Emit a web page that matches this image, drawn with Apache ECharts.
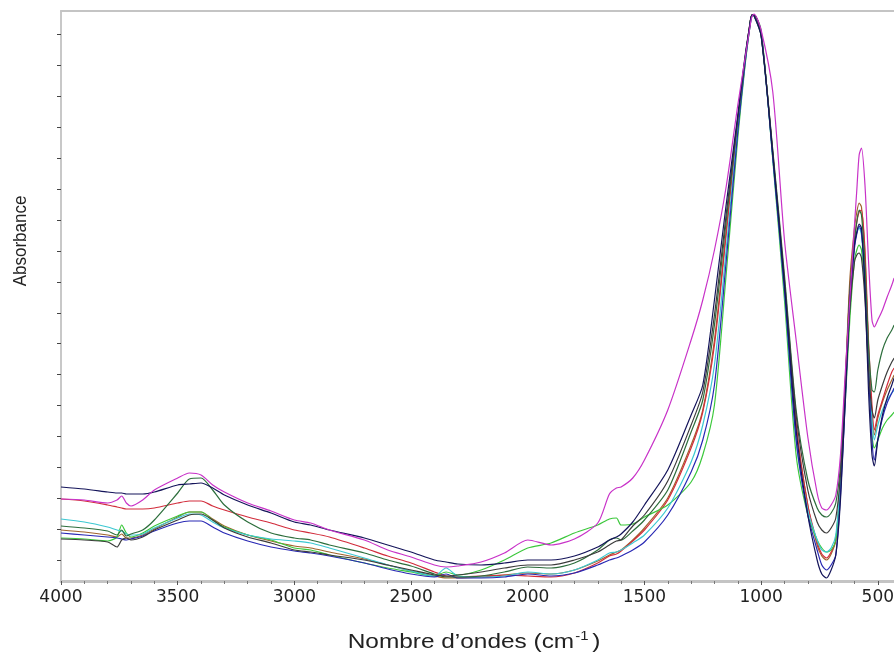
<!DOCTYPE html>
<html>
<head>
<meta charset="utf-8">
<script src="https://cdn.jsdelivr.net/npm/echarts@6/dist/echarts.min.js"></script>
<style>
html,body{margin:0;padding:0;background:#fff;}
#chart{width:894px;height:660px;}
</style>
</head>
<body>
<div id="chart"></div>
<script>
// Wavenumbers (cm-1)
const wavenumbers = [4000,3900,3800,3760,3740,3720,3700,3650,3600,3500,3450,3400,3350,3300,3200,3100,3000,2930,2850,2700,2600,2500,2400,2350,2300,2200,2100,2000,1900,1800,1700,1650,1620,1600,1550,1500,1400,1300,1250,1200,1150,1100,1070,1050,1040,1030,1000,950,900,850,800,760,740,720,700,680,660,640,620,600,590,580,570,555,540,525,515,500,480,460,440,430];

// Absorbance (arbitrary units) for each spectrum
const magenta = [82,81,78,81,85,78,75,81,91,103,108,106,96,89,78,70,61,58,51,41,31,24,16,14,15,19,28,41,36,42,58,87,93,94,103,121,171,241,281,331,394,476,521,551,564,567,551,489,341,241,144,88,73,71,76,86,126,206,281,356,391,426,433,396,321,261,254,261,271,284,296,303];
const red = [82,80,76,74,73,72,72,72,73,78,80,80,75,71,64,58,51,48,44,33,25,18,9,5,4,5,6,5,4,8,18,25,27,30,40,51,81,133,169,236,346,459,519,554,566,566,548,426,296,156,76,39,27,23,29,41,101,191,291,341,359,369,371,331,241,176,151,166,181,196,209,213];
const darkGreen = [55,53,50,46,51,45,47,51,61,88,102,103,91,76,59,48,43,41,36,28,21,15,7,4,4,5,9,14,13,18,31,41,43,41,50,61,91,149,181,256,359,461,520,553,566,565,545,431,306,171,101,73,66,64,68,78,116,196,291,341,359,371,366,316,236,191,189,211,231,243,251,256];
const green = [43,42,40,44,56,48,44,48,55,65,69,69,61,54,46,41,33,31,26,18,13,9,5,9,6,11,21,33,38,48,56,62,63,56,57,64,76,99,126,176,306,443,513,551,565,566,551,421,281,126,66,41,33,29,31,41,96,176,261,321,331,336,331,291,211,146,133,141,153,161,166,169];
const cyan = [62,59,54,51,50,47,46,47,53,63,67,66,59,53,46,42,40,38,33,23,16,10,5,13,5,4,5,9,7,11,21,28,29,31,38,46,73,119,156,216,331,453,517,553,566,565,546,423,291,141,71,41,31,29,33,46,101,186,281,336,349,353,346,296,216,161,141,156,171,181,188,191];
const blue = [48,46,44,43,42,41,42,45,50,58,60,60,54,48,40,34,30,28,25,18,12,7,4,7,3,3,4,7,5,8,16,21,23,25,31,39,66,109,141,196,319,449,515,551,565,566,549,423,291,141,66,31,16,11,16,26,86,176,276,333,347,355,349,301,211,141,121,141,163,178,188,193];
const navy = [94,92,89,88,88,87,87,87,89,96,97,98,93,86,76,68,59,56,51,43,36,29,21,19,17,16,18,21,21,25,34,41,44,47,59,76,111,166,196,281,376,466,523,554,566,565,545,426,296,151,66,21,7,3,11,26,81,181,281,336,349,357,353,291,191,126,115,141,166,183,196,203];
const darkGray = [42,41,39,34,41,43,41,44,51,61,66,67,61,53,44,38,31,29,26,21,16,11,6,5,6,9,13,16,16,21,29,36,40,41,55,66,100,156,189,266,366,463,521,554,566,566,546,429,301,166,91,59,51,48,53,63,106,186,271,319,326,328,323,281,211,171,163,181,196,209,219,223];
const brown = [51,49,46,44,47,43,43,46,52,64,69,69,62,55,46,40,35,33,29,22,16,10,5,3,3,4,6,8,7,11,20,26,29,31,41,53,83,136,171,241,349,459,519,553,566,566,547,426,296,156,76,36,25,21,27,41,101,196,301,353,369,378,374,326,231,166,146,163,179,191,201,206];

const xTickInterval = 500;
const yTitle = 'Absorbance';
const xTitleMain = 'Nombre d’ondes (cm';
const xTitleSup = '-1';

const spectra = [
  {name:'brown', data:brown, color:'#a0642d'},
  {name:'red', data:red, color:'#d22d3c'},
  {name:'green', data:green, color:'#3cc83c'},
  {name:'cyan', data:cyan, color:'#3cc8d2'},
  {name:'blue', data:blue, color:'#2828b4'},
  {name:'darkGreen', data:darkGreen, color:'#2d6e3c'},
  {name:'darkGray', data:darkGray, color:'#3c3c3c'},
  {name:'navy', data:navy, color:'#14145a'},
  {name:'magenta', data:magenta, color:'#c832c8'}
];

// tick positions on the unlabeled absorbance axis
const majorTicks = [];
const minorTicks = [];
for (let j = -3; j <= 88; j++) {
  const v = +(21 + 6.18 * j).toFixed(2);
  if (j % 5 === 0) majorTicks.push(v); else minorTicks.push(v);
}

const chart = echarts.init(document.getElementById('chart'), null, {renderer:'canvas'});
chart.setOption({
  animation:false,
  backgroundColor:'#ffffff',
  grid:{left:61, top:11, width:933.5, bottom:79, containLabel:false, outerBoundsMode:'none'},
  xAxis:[{
    type:'value', min:0, max:4000, interval:xTickInterval, inverse:true,
    axisLine:{show:true, onZero:false, lineStyle:{color:'#c4c4c4', width:3}},
    axisTick:{show:true, length:4, lineStyle:{color:'#555', width:1}},
    minorTick:{show:true, splitNumber:5, length:3, lineStyle:{color:'#777', width:1}},
    axisLabel:{fontFamily:'DejaVu Sans', fontSize:17, color:'#222', margin:8, formatter:(v) => String(v)},
    splitLine:{show:false}, minorSplitLine:{show:false}
  },{
    type:'value', min:0, max:4000, inverse:true, position:'top',
    axisLine:{show:true, onZero:false, lineStyle:{color:'#c4c4c4', width:2}},
    axisTick:{show:false}, axisLabel:{show:false}, splitLine:{show:false}
  }],
  yAxis:[{
    type:'value', min:0, max:570, position:'left',
    axisLine:{show:true, onZero:false, lineStyle:{color:'#c8c8c8', width:2}},
    axisTick:{show:true, length:4, customValues:majorTicks, lineStyle:{color:'#444', width:1}},
    axisLabel:{show:false}, splitLine:{show:false}
  },{
    type:'value', min:0, max:570, position:'left',
    axisLine:{show:false},
    axisTick:{show:true, length:2, customValues:minorTicks, lineStyle:{color:'#555', width:1}},
    axisLabel:{show:false}, splitLine:{show:false}
  }],
  graphic:[{
    type:'text', x:21, y:241, rotation:Math.PI/2, scaleY:1.08,
    style:{text:yTitle, fontFamily:'Liberation Sans, Arial, sans-serif', fontSize:17, fill:'#222', align:'center', verticalAlign:'middle'}
  },{
    type:'text', x:474, y:642, scaleX:1.19,
    style:{
      text:'{a|' + xTitleMain + '}{s|' + xTitleSup + '}{a|)}',
      align:'center', verticalAlign:'middle',
      rich:{
        a:{fontFamily:'Liberation Sans, Arial, sans-serif', fontSize:20.5, fill:'#222', lineHeight:24},
        s:{fontFamily:'Liberation Sans, Arial, sans-serif', fontSize:12.5, fill:'#222', verticalAlign:'top', lineHeight:14, padding:[0,3,0,1]}
      }
    }
  }],
  series: spectra.map(s => ({
    name:s.name, type:'line', xAxisIndex:0, yAxisIndex:0,
    showSymbol:false, symbol:'none', smooth:0.25,
    lineStyle:{color:s.color, width:1.2},
    data: wavenumbers.map((w,i) => [w, s.data[i]])
  }))
});
</script>
</body>
</html>
